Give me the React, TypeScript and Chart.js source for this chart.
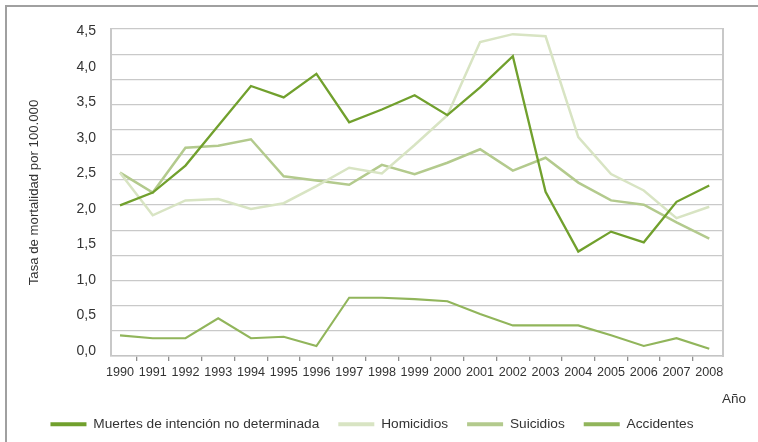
import React, { useEffect, useRef } from 'react';
import { Chart, registerables } from 'chart.js';

Chart.register(...registerables);

// ---- data ----
const years = [1990, 1991, 1992, 1993, 1994, 1995, 1996, 1997, 1998, 1999, 2000, 2001, 2002, 2003, 2004, 2005, 2006, 2007, 2008];
const muertes = [2.05, 2.23, 2.61, 3.17, 3.73, 3.57, 3.9, 3.22, 3.4, 3.6, 3.32, 3.71, 4.15, 2.24, 1.4, 1.68, 1.53, 2.1, 2.33];
const homicidios = [2.51, 1.91, 2.12, 2.14, 2.0, 2.08, 2.32, 2.58, 2.5, 2.9, 3.32, 4.35, 4.46, 4.43, 3.01, 2.49, 2.26, 1.87, 2.03];
const suicidios = [2.51, 2.23, 2.86, 2.89, 2.98, 2.46, 2.4, 2.34, 2.62, 2.49, 2.65, 2.84, 2.54, 2.72, 2.37, 2.12, 2.06, 1.81, 1.58];
const accidentes = [0.22, 0.18, 0.18, 0.46, 0.18, 0.2, 0.07, 0.75, 0.75, 0.73, 0.7, 0.52, 0.36, 0.36, 0.36, 0.22, 0.07, 0.18, 0.03];
const seriesNames = ['Muertes de intención no determinada', 'Homicidios', 'Suicidios', 'Accidentes'];
const yTickValues = [0, 0.5, 1, 1.5, 2, 2.5, 3, 3.5, 4, 4.5];
const yAxisTitle = 'Tasa de mortalidad por 100.000';
const xAxisTitle = 'Año';

// ---- styling ----
const colors = ['#71a02d', '#d8e4c3', '#b3ca8d', '#91b55b'];
const widths = [2.3, 2.5, 2.5, 2.1];
const FONT = "'Liberation Sans', Arial, sans-serif";
const TEXT = '#333333';

const Y_MIN = -0.0708;
const Y_MAX = 4.5326;
const Y_GRID_STEPS = 13;
const X_MIN = 1989.725;
const X_MAX = 2008.42;

const isLabelTick = (v: number) => yTickValues.some((t) => Math.abs(t - v) < 1e-9);

export default function App() {
  const ref = useRef<HTMLCanvasElement>(null);

  useEffect(() => {
    const canvas = ref.current;
    if (!canvas) return;
    Chart.defaults.font.family = FONT;

    const seriesData = [muertes, homicidios, suicidios, accidentes];
    const datasets = seriesData.map((vals, i) => ({
      label: seriesNames[i],
      data: years.map((yr, j) => ({ x: yr, y: vals[j] })),
      borderColor: colors[i],
      backgroundColor: colors[i],
      borderWidth: widths[i],
      pointRadius: 0,
      tension: 0,
      fill: false,
    }));

    const gridTicks: number[] = [];
    for (let k = 0; k <= Y_GRID_STEPS; k++) gridTicks.push(Y_MIN + (k * (Y_MAX - Y_MIN)) / Y_GRID_STEPS);
    const yAll = [...gridTicks, ...yTickValues].sort((a, b) => a - b);

    const xTicks: number[] = [];
    years.forEach((yr, i) => {
      xTicks.push(yr);
      if (i < years.length - 1) xTicks.push(yr + 0.5);
    });

    const chart = new Chart(canvas, {
      type: 'line',
      data: { datasets },
      options: {
        responsive: false,
        animation: false,
        devicePixelRatio: 1,
        layout: { padding: { left: 21, right: 35, top: 29, bottom: 1 } },
        plugins: {
          tooltip: { enabled: false },
          legend: {
            position: 'bottom',
            align: 'center',
            labels: {
              usePointStyle: true,
              pointStyle: 'line',
              pointStyleWidth: 36,
              padding: 19,
              color: TEXT,
              font: { family: FONT, size: 13.7 },
              generateLabels: (c: any) =>
                (Chart.defaults.plugins.legend.labels as any).generateLabels(c).map((l: any) => ({
                  ...l,
                  lineWidth: 4,
                  strokeStyle: colors[l.datasetIndex],
                  fillStyle: colors[l.datasetIndex],
                })),
            },
          },
        },
        scales: {
          x: {
            type: 'linear',
            min: X_MIN,
            max: X_MAX,
            bounds: 'data',
            afterBuildTicks: (s: any) => {
              s.ticks = xTicks.map((v) => ({ value: v }));
            },
            afterFit: (s: any) => {
              s.height = 42.3;
            },
            grid: {
              display: true,
              drawOnChartArea: false,
              drawTicks: true,
              tickLength: 5,
              lineWidth: 1.3,
              color: (ctx: any) => (Number.isInteger(ctx.tick?.value) ? 'rgba(0,0,0,0)' : '#8f8f8f'),
              tickColor: (ctx: any) => (Number.isInteger(ctx.tick?.value) ? 'rgba(0,0,0,0)' : '#8f8f8f'),
            },
            border: { display: true, color: '#c4c4c4', width: 1.5 },
            ticks: {
              autoSkip: false,
              maxRotation: 0,
              minRotation: 0,
              padding: 4,
              color: TEXT,
              font: { family: FONT, size: 12.6 },
              callback: (v: any) => (Number.isInteger(v) ? String(v) : ''),
            },
          },
          y: {
            type: 'linear',
            position: 'left',
            min: Y_MIN,
            max: Y_MAX,
            bounds: 'data',
            afterBuildTicks: (s: any) => {
              s.ticks = yAll.map((v) => ({ value: v }));
            },
            afterFit: (s: any) => {
              s.width = 90;
            },
            grid: {
              display: true,
              drawTicks: false,
              lineWidth: 1.3,
              color: (ctx: any) => {
                const v = ctx.tick?.value;
                if (v === undefined) return '#c9c9c9';
                return isLabelTick(v) ? 'rgba(0,0,0,0)' : '#c9c9c9';
              },
            },
            border: { display: true, color: '#c8c8c8', width: 2 },
            ticks: {
              autoSkip: false,
              padding: 15,
              color: TEXT,
              font: { family: FONT, size: 14 },
              callback: (v: any) => {
                const n = Number(v);
                return isLabelTick(n) ? n.toFixed(1).replace('.', ',') : '';
              },
            },
            title: {
              display: true,
              text: yAxisTitle,
              color: TEXT,
              font: { family: FONT, size: 13.2 },
              padding: { top: 5.3, bottom: 0 },
            },
          },
          y2: {
            type: 'linear',
            position: 'right',
            min: 0,
            max: 1,
            afterFit: (s: any) => {
              s.width = 0;
            },
            grid: { display: false, drawTicks: false },
            ticks: { display: false },
            border: { display: true, color: '#c8c8c8', width: 2 },
          },
        },
      } as any,
    });

    return () => chart.destroy();
  }, []);

  return (
    <div style={{ position: 'fixed', left: 0, top: 0, width: 758, height: 442, overflow: 'hidden', background: '#ffffff' }}>
      <div
        style={{
          position: 'absolute',
          left: 5,
          top: 5,
          width: 820,
          height: 520,
          borderTop: '2px solid #a0a0a0',
          borderLeft: '2px solid #a0a0a0',
        }}
      />
      <canvas ref={ref} width={758} height={442} style={{ position: 'absolute', left: 0, top: 0, width: 758, height: 442 }} />
      <div
        style={{
          position: 'absolute',
          left: 722,
          top: 390,
          lineHeight: '18px',
          fontFamily: FONT,
          fontSize: 13.5,
          color: TEXT,
          whiteSpace: 'nowrap',
        }}
      >
        {xAxisTitle}
      </div>
    </div>
  );
}
